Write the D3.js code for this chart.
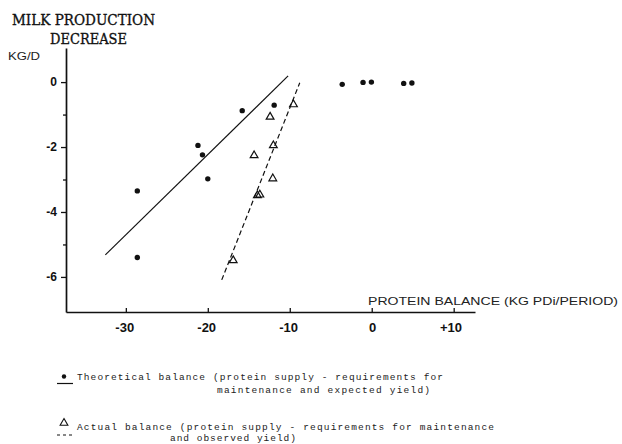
<!DOCTYPE html>
<html>
<head>
<meta charset="utf-8">
<script src="https://cdn.jsdelivr.net/npm/d3@7"></script>
<style>
body { margin: 0; background: #fff; }
</style>
</head>
<body>
<svg class="chart"></svg>
<script>
// theoretical balance (filled dots)
var theoX = [-28.6, -28.6, -21.2, -20.65, -20.0, -15.8, -11.9, -3.6, -1.06, -0.04, 3.9, 4.9];
var theoY = [-3.35, -5.4, -1.95, -2.24, -2.98, -0.88, -0.71, -0.07, -0.01, 0, -0.04, -0.03];

// actual balance (open triangles)
var actX = [-9.55, -12.4, -12.0, -14.35, -12.07, -13.95, -13.65, -16.9];
var actY = [-0.69, -1.07, -1.95, -2.26, -2.97, -3.49, -3.47, -5.49];

// fitted lines, two end points each
var theoLine = [[-32.5, -5.32], [-10.2, 0.19]];
var actLine = [[-18.3, -6.09], [-8.78, -0.02]];

var xTicks = [-30, -20, -10, 0, 10];
var xTickLabels = ["-30", "-20", "-10", "0", "+10"];
var yTicks = [0, -2, -4, -6];
var yTickLabels = ["0", "-2", "-4", "-6"];
var yMinor = [-1, -3, -5];

var titleLines = ["MILK PRODUCTION", "DECREASE"];
var yUnit = "KG/D";
var xTitle = "PROTEIN BALANCE (KG PDi/PERIOD)";
var legendTheo = ["Theoretical balance (protein supply - requirements for",
                  "maintenance and expected yield)"];
var legendAct = ["Actual balance (protein supply - requirements for maintenance",
                 "and observed yield)"];

var W = 622, H = 444;

var svg = d3.select(".chart")
    .attr("width", W)
    .attr("height", H)
    .style("font-family", "'Liberation Sans', sans-serif");

// axis extents in data units
var x = d3.scaleLinear()
    .domain([-37.3, 12.6])
    .range([66, 475]);

var y = d3.scaleLinear()
    .domain([1.05, -7.08])
    .range([48, 312]);

var theo = theoX.map(function (d, i) { return [d, theoY[i]]; });
var act = actX.map(function (d, i) { return [d, actY[i]]; });

// y axis
var yAxis = d3.axisLeft(y)
    .tickValues(yTicks)
    .tickSizeInner(5)
    .tickSizeOuter(0)
    .tickPadding(4)
    .tickFormat(function (d, i) { return yTickLabels[i]; });

var gy = svg.append("g")
    .attr("transform", "translate(" + x(-37.3) + ",0)")
    .call(yAxis);

gy.append("g")
    .call(d3.axisLeft(y).tickValues(yMinor).tickSize(3).tickFormat(""))
    .select(".domain").remove();

gy.selectAll("text")
    .style("font-family", "'Liberation Sans', sans-serif")
    .style("font-weight", "bold")
    .style("font-size", "12px")
    .attr("fill", "#111");

// x axis, ticks point up
var xAxis = d3.axisBottom(x)
    .tickValues(xTicks)
    .tickSizeInner(-4)
    .tickSizeOuter(0)
    .tickPadding(11)
    .tickFormat(function (d, i) { return xTickLabels[i]; });

var gx = svg.append("g")
    .attr("transform", "translate(0," + y(-7.08) + ")")
    .call(xAxis);

gx.selectAll("text")
    .style("font-family", "'Liberation Sans', sans-serif")
    .style("font-weight", "bold")
    .style("font-size", "13px")
    .attr("fill", "#111")
    .attr("text-anchor", "end")
    .attr("x", function (d, i) { return xTickLabels[i].replace(/[-+]/, "").length * 3.9; });

svg.selectAll(".domain")
    .attr("stroke", "#111")
    .attr("stroke-width", 1.7);
svg.selectAll(".tick line")
    .attr("stroke", "#111")
    .attr("stroke-width", 1.3);

// titles
svg.append("text")
    .attr("x", 12)
    .attr("y", 25)
    .attr("textLength", 143)
    .attr("lengthAdjust", "spacingAndGlyphs")
    .style("font-family", "'DejaVu Serif', serif")
    .style("font-size", "15.5px")
    .style("stroke", "#111")
    .style("stroke-width", 0.35)
    .attr("fill", "#111")
    .text(titleLines[0]);

svg.append("text")
    .attr("x", 50)
    .attr("y", 43.5)
    .attr("textLength", 77)
    .attr("lengthAdjust", "spacingAndGlyphs")
    .style("font-family", "'DejaVu Serif', serif")
    .style("font-size", "15.5px")
    .style("stroke", "#111")
    .style("stroke-width", 0.35)
    .attr("fill", "#111")
    .text(titleLines[1]);

svg.append("text")
    .attr("x", 8)
    .attr("y", 60)
    .attr("textLength", 32)
    .attr("lengthAdjust", "spacingAndGlyphs")
    .style("font-size", "11px")
    .attr("fill", "#222")
    .text(yUnit);

svg.append("text")
    .attr("x", 368)
    .attr("y", 304.5)
    .attr("textLength", 250)
    .attr("lengthAdjust", "spacingAndGlyphs")
    .style("font-size", "11.5px")
    .attr("fill", "#222")
    .text(xTitle);

// fitted lines
var line = d3.line()
    .x(function (d) { return x(d[0]); })
    .y(function (d) { return y(d[1]); });

svg.append("path")
    .datum(theoLine)
    .attr("d", line)
    .attr("fill", "none")
    .attr("stroke", "#111")
    .attr("stroke-width", 1.2);

svg.append("path")
    .datum(actLine)
    .attr("d", line)
    .attr("fill", "none")
    .attr("stroke", "#111")
    .attr("stroke-width", 1.2)
    .attr("stroke-dasharray", "5,3");

// points
svg.append("g").selectAll("circle")
    .data(theo)
  .enter().append("circle")
    .attr("cx", function (d) { return x(d[0]); })
    .attr("cy", function (d) { return y(d[1]); })
    .attr("r", 2.7)
    .attr("fill", "#111");

var tri = d3.symbol().type(d3.symbolTriangle).size(26);

svg.append("g").selectAll("path")
    .data(act)
  .enter().append("path")
    .attr("d", tri)
    .attr("transform", function (d) { return "translate(" + x(d[0]) + "," + y(d[1]) + ")"; })
    .attr("fill", "none")
    .attr("stroke", "#111")
    .attr("stroke-width", 1.2);

// legend
var leg = svg.append("g")
    .style("font-family", "'Liberation Mono', monospace")
    .style("font-size", "9.5px")
    .attr("fill", "#222");

leg.append("circle")
    .attr("cx", 64).attr("cy", 376.5).attr("r", 2.2)
    .attr("fill", "#111");
leg.append("line")
    .attr("x1", 57).attr("x2", 73).attr("y1", 383.5).attr("y2", 383.5)
    .attr("stroke", "#111").attr("stroke-width", 1.2);

leg.append("path")
    .attr("d", tri)
    .attr("transform", "translate(64,423)")
    .attr("fill", "none")
    .attr("stroke", "#111")
    .attr("stroke-width", 1.1);
leg.append("line")
    .attr("x1", 57).attr("x2", 75).attr("y1", 435).attr("y2", 435)
    .attr("stroke", "#111").attr("stroke-width", 1)
    .attr("stroke-dasharray", "3,3");

var legRows = [
  {t: legendTheo[0], x: 77, y: 380, w: 366},
  {t: legendTheo[1], x: 217, y: 393, w: 213},
  {t: legendAct[0], x: 77, y: 430, w: 417},
  {t: legendAct[1], x: 170, y: 441, w: 126}
];

leg.selectAll("text")
    .data(legRows)
  .enter().append("text")
    .attr("x", function (d) { return d.x; })
    .attr("y", function (d) { return d.y; })
    .attr("textLength", function (d) { return d.w; })
    .attr("lengthAdjust", "spacing")
    .text(function (d) { return d.t; });
</script>
</body>
</html>
